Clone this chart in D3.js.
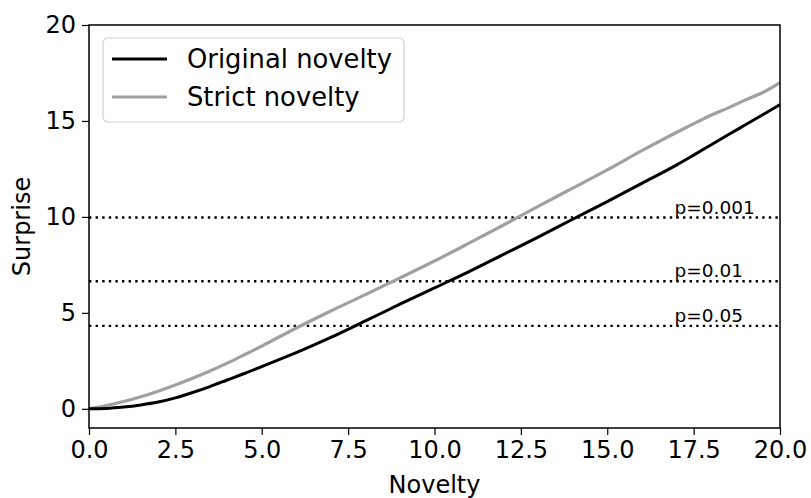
<!DOCTYPE html>
<html>
<head>
<meta charset="utf-8">
<script src="https://cdn.jsdelivr.net/npm/d3@7"></script>
<style>
  body { margin: 0; background: #fff; }
  svg { display: block; font-family: "DejaVu Sans", sans-serif; }
</style>
</head>
<body>
<svg id="chart" width="811" height="498"></svg>
<script>
// ---- data ----
const noveltyX = [0,0.5,1,1.5,2,2.5,3,3.5,4,4.5,5,5.5,6,7,8,9,10,11,12,13,14,15,16,17,17.5,18,18.5,19,19.5,20];
const originalSurprise = [0,0.02,0.09,0.2,0.35,0.57,0.85,1.16,1.5,1.84,2.2,2.56,2.93,3.72,4.58,5.45,6.3,7.15,8.05,8.95,9.88,10.8,11.75,12.7,13.22,13.75,14.28,14.8,15.32,15.85];
const strictSurprise = [0,0.17,0.38,0.63,0.92,1.24,1.59,1.97,2.38,2.82,3.27,3.74,4.21,5.1,5.95,6.82,7.7,8.63,9.58,10.55,11.5,12.45,13.45,14.4,14.85,15.3,15.68,16.1,16.48,17.0];
const thresholds = [9.966, 6.644, 4.322];
const thresholdLabels = ["p=0.001", "p=0.01", "p=0.05"];
const xTicks = [0,2.5,5,7.5,10,12.5,15,17.5,20];
const yTicks = [0,5,10,15,20];
const seriesNames = ["Original novelty", "Strict novelty"];
const seriesColors = ["#000000", "#a0a0a0"];

// ---- layout ----
const svg = d3.select("#chart");
const L = 89, R = 780, T = 25, B = 428;
const x = d3.scaleLinear().domain([0,20]).range([L,R]);
const y = d3.scaleLinear().domain([-1,20]).range([B,T]);

// threshold lines
thresholds.forEach((t,i) => {
  svg.append("line")
    .attr("x1", x(0)).attr("x2", x(20))
    .attr("y1", y(t)).attr("y2", y(t))
    .attr("stroke", "#000").attr("stroke-width", 2.4)
    .attr("stroke-dasharray", "2.4,4.2");
  svg.append("text")
    .attr("x", x(16.95)).attr("y", y(t) - 4)
    .attr("font-size", 18.5).attr("fill", "#000")
    .text(thresholdLabels[i]);
});

// curves
const line = d3.line().x((d,i) => x(noveltyX[i])).y(d => y(d)).curve(d3.curveMonotoneX);
svg.append("path").datum(strictSurprise)
  .attr("d", line).attr("fill","none").attr("stroke", seriesColors[1]).attr("stroke-width", 3.2);
svg.append("path").datum(originalSurprise)
  .attr("d", line).attr("fill","none").attr("stroke", seriesColors[0]).attr("stroke-width", 3);

// axes
const xAxis = svg.append("g").attr("transform", `translate(0,${B})`)
  .call(d3.axisBottom(x).tickValues(xTicks).tickFormat(d3.format(".1f")).tickSizeOuter(0).tickSize(7).tickPadding(6));
const yAxis = svg.append("g").attr("transform", `translate(${L},0)`)
  .call(d3.axisLeft(y).tickValues(yTicks).tickFormat(d3.format("d")).tickSizeOuter(0).tickSize(7).tickPadding(6));
[xAxis, yAxis].forEach(g => {
  g.selectAll("text").attr("font-size", 24).attr("font-family", "DejaVu Sans").attr("fill","#000");
  g.selectAll("line").attr("stroke", "#000").attr("stroke-width", 1.2);
  g.select(".domain").remove();
});

// frame
svg.append("rect").attr("x", L).attr("y", T).attr("width", R-L).attr("height", B-T)
  .attr("fill","none").attr("stroke","#000").attr("stroke-width",1.5);

// labels
svg.append("text").attr("x", (L+R)/2).attr("y", 493).attr("text-anchor","middle")
  .attr("font-size", 24).text("Novelty");
svg.append("text").attr("transform", `translate(30,${(T+B)/2}) rotate(-90)`)
  .attr("text-anchor","middle").attr("font-size", 24).text("Surprise");

// legend
const lg = svg.append("g");
lg.append("rect").attr("x",103).attr("y",38).attr("width",301).attr("height",84)
  .attr("rx",5).attr("fill","#fff").attr("fill-opacity",0.8).attr("stroke","#d0d0d0").attr("stroke-width",1.2);
seriesNames.forEach((name,i) => {
  const yy = 59 + i*38;
  lg.append("line").attr("x1",112).attr("x2",167).attr("y1",yy).attr("y2",yy)
    .attr("stroke", seriesColors[i]).attr("stroke-width", 3);
  lg.append("text").attr("x",187).attr("y",yy+9).attr("font-size",25.8).text(name);
});
</script>
</body>
</html>
